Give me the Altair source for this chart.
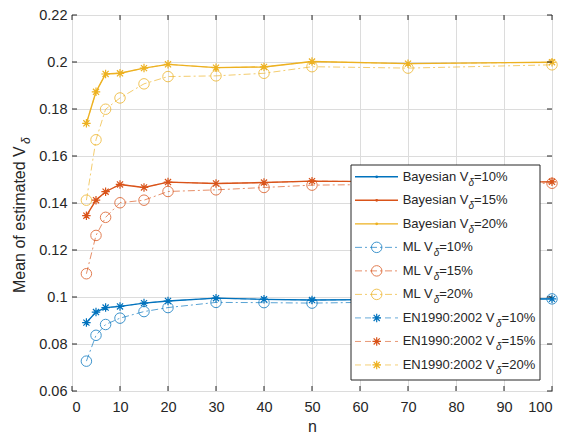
import altair as alt
import pandas as pd

# ---------------- data ----------------
n_values = [3, 5, 7, 10, 15, 20, 30, 40, 50, 70, 100]

bayes_10 = [0.0891, 0.0936, 0.0955, 0.0960, 0.0974, 0.0983, 0.0995, 0.0990, 0.0987, 0.0990, 0.0992]
bayes_15 = [0.1346, 0.1412, 0.1448, 0.1479, 0.1466, 0.1489, 0.1483, 0.1487, 0.1493, 0.1490, 0.1490]
bayes_20 = [0.1739, 0.1873, 0.1949, 0.1952, 0.1974, 0.1990, 0.1976, 0.1979, 0.2002, 0.1993, 0.1999]

ml_10 = [0.0727, 0.0837, 0.0883, 0.0910, 0.0938, 0.0955, 0.0977, 0.0976, 0.0974, 0.0980, 0.0992]
ml_15 = [0.1099, 0.1262, 0.1339, 0.1401, 0.1412, 0.1449, 0.1456, 0.1466, 0.1476, 0.1480, 0.1484]
ml_20 = [0.1412, 0.1669, 0.1799, 0.1847, 0.1907, 0.1938, 0.1941, 0.1952, 0.1980, 0.1974, 0.1988]

en_10 = [0.0891, 0.0936, 0.0955, 0.0960, 0.0974, 0.0983, 0.0995, 0.0990, 0.0987, 0.0990, 0.0992]
en_15 = [0.1346, 0.1412, 0.1448, 0.1479, 0.1466, 0.1489, 0.1483, 0.1487, 0.1493, 0.1490, 0.1490]
en_20 = [0.1739, 0.1873, 0.1949, 0.1952, 0.1974, 0.1990, 0.1976, 0.1979, 0.2002, 0.1993, 0.1999]

levels = ["10%", "15%", "20%"]
colors = ["#0072BD", "#D95319", "#EDB120"]

x_ticks = [0, 10, 20, 30, 40, 50, 60, 70, 80, 90, 100]
y_ticks = [0.06, 0.08, 0.10, 0.12, 0.14, 0.16, 0.18, 0.20, 0.22]

legend_methods = ["Bayesian"] * 3 + ["ML"] * 3 + ["EN1990:2002"] * 3
legend_levels = levels * 3

# ---------------- tables ----------------
def long(method, series):
    rows = []
    for lev, vals in zip(levels, series):
        for x, y in zip(n_values, vals):
            rows.append({"method": method, "V": lev, "n": x, "mean": y})
    return rows

df_b = pd.DataFrame(long("Bayesian", [bayes_10, bayes_15, bayes_20]))
df_m = pd.DataFrame(long("ML", [ml_10, ml_15, ml_20]))
df_e = pd.DataFrame(long("EN1990:2002", [en_10, en_15, en_20]))

W, H = 480, 376
LEFT, TOP = 72, 15          # plot origin in page pixels (8px page margin + padding)
X0, X1, Y0, Y1 = 0, 100, 0.06, 0.22

def px2x(page_x):
    return X0 + (page_x - LEFT) / W * (X1 - X0)

def py2y(page_y):
    return Y1 - (page_y - TOP) / H * (Y1 - Y0)

xs = alt.Scale(domain=[X0, X1], nice=False, zero=False)
ys = alt.Scale(domain=[Y0, Y1], nice=False, zero=False)
cs = alt.Scale(domain=levels, range=colors)

ax_x = alt.Axis(values=x_ticks, title="n", grid=True, ticks=False, domain=False,
                labelFontSize=14.5, titleFontSize=16, labelPadding=9, titlePadding=5)
ax_y = alt.Axis(values=y_ticks, title=None, grid=True, ticks=False, domain=False,
                format="~g", labelFontSize=14.5, labelPadding=5)

def X(field):
    return alt.X(field, type="quantitative", scale=xs, axis=ax_x)

def Y(field):
    return alt.Y(field, type="quantitative", scale=ys, axis=ax_y)

col = alt.Color("V:N", scale=cs, legend=None)

asterisk = "M0,-1L0,1M-1,0L1,0M-0.72,-0.72L0.72,0.72M-0.72,0.72L0.72,-0.72"
ML_DASH = [7, 3, 2, 3]
EN_DASH = [6, 4]
AST_SIZE = 72

ml_line = alt.Chart(df_m).mark_line(strokeDash=ML_DASH, strokeWidth=1, opacity=0.65).encode(
    x=X("n"), y=Y("mean"), color=col, detail="V:N")
ml_pts = alt.Chart(df_m).mark_point(shape="circle", filled=False, size=110, strokeWidth=1, opacity=0.75).encode(
    x=X("n"), y=Y("mean"), color=col)
en_line = alt.Chart(df_e).mark_line(strokeDash=EN_DASH, strokeWidth=1, opacity=0.6).encode(
    x=X("n"), y=Y("mean"), color=col, detail="V:N")
b_line = alt.Chart(df_b).mark_line(strokeWidth=1.4).encode(
    x=X("n"), y=Y("mean"), color=col, detail="V:N")
b_pts = alt.Chart(df_b).mark_point(shape="circle", filled=True, size=8, opacity=1).encode(
    x=X("n"), y=Y("mean"), color=col)
en_pts = alt.Chart(df_e).mark_point(shape=asterisk, filled=False, size=AST_SIZE, strokeWidth=1.2, opacity=1).encode(
    x=X("n"), y=Y("mean"), color=col)

# inward ticks on all four sides
xt = pd.DataFrame({"v": x_ticks})
yt = pd.DataFrame({"v": y_ticks})
tick_col = "#262626"
t_bottom = alt.Chart(xt).mark_rule(color=tick_col).encode(x=X("v"), y=alt.value(H), y2=alt.value(H - 5))
t_top = alt.Chart(xt).mark_rule(color=tick_col).encode(x=X("v"), y=alt.value(0), y2=alt.value(5))
t_left = alt.Chart(yt).mark_rule(color=tick_col).encode(y=Y("v"), x=alt.value(0), x2=alt.value(5))
t_right = alt.Chart(yt).mark_rule(color=tick_col).encode(y=Y("v"), x=alt.value(W), x2=alt.value(W - 5))

# y axis title with subscript
ytitle = alt.Chart(pd.DataFrame({"t": ["Mean of estimated V"]})).mark_text(
    angle=270, align="left", baseline="alphabetic", fontSize=16, color="#262626",
    font="Liberation Sans").encode(x=alt.value(25 - LEFT), y=alt.value(293 - TOP), text="t:N")
ytitle_sub = alt.Chart(pd.DataFrame({"t": ["δ"]})).mark_text(
    angle=270, align="left", baseline="alphabetic", fontSize=12, fontStyle="italic", color="#262626",
    font="Liberation Sans").encode(x=alt.value(30 - LEFT), y=alt.value(144 - TOP), text="t:N")

# ---------------- legend (drawn in data units) ----------------
box = pd.DataFrame({"x1": [px2x(351)], "x2": [px2x(540)], "y1": [py2y(165)], "y2": [py2y(380)]})
leg_box = alt.Chart(box).mark_rect(fill="white", stroke="#262626", strokeWidth=1).encode(
    x=X("x1"), x2="x2", y=Y("y1"), y2="y2")

prefix_w = {"Bayesian": 64.0, "ML": 29.2, "EN1990:2002": 91.6}
TXT0 = 402.7
rows = []
for i, (m, lev) in enumerate(zip(legend_methods, legend_levels)):
    page_y = 176.8 + 23.52 * i
    rows.append({"method": m, "V": lev, "ly": py2y(page_y), "lx1": px2x(355), "lx2": px2x(398),
                 "mx": px2x(376.7), "tx": px2x(TXT0), "dx": px2x(TXT0 + prefix_w[m] + 1.8),
                 "sx": px2x(TXT0 + prefix_w[m] + 7.3),
                 "pre": m + " V", "suf": "=" + lev, "sub": "δ"})
leg = pd.DataFrame(rows)
leg_b = leg[leg.method == "Bayesian"]
leg_m = leg[leg.method == "ML"]
leg_e = leg[leg.method == "EN1990:2002"]

lb_line = alt.Chart(leg_b).mark_rule(strokeWidth=1.4).encode(x=X("lx1"), x2="lx2", y=Y("ly"), color=col)
lb_pt = alt.Chart(leg_b).mark_point(shape="circle", filled=True, size=8, opacity=1).encode(
    x=X("mx"), y=Y("ly"), color=col)
lm_line = alt.Chart(leg_m).mark_rule(strokeDash=ML_DASH, strokeWidth=1, opacity=0.65).encode(
    x=X("lx1"), x2="lx2", y=Y("ly"), color=col)
lm_pt = alt.Chart(leg_m).mark_point(shape="circle", filled=False, size=110, strokeWidth=1, opacity=0.75).encode(
    x=X("mx"), y=Y("ly"), color=col)
le_line = alt.Chart(leg_e).mark_rule(strokeDash=EN_DASH, strokeWidth=1, opacity=0.6).encode(
    x=X("lx1"), x2="lx2", y=Y("ly"), color=col)
le_pt = alt.Chart(leg_e).mark_point(shape=asterisk, filled=False, size=AST_SIZE, strokeWidth=1.2, opacity=1).encode(
    x=X("mx"), y=Y("ly"), color=col)

txt_kw = dict(align="left", baseline="middle", fontSize=13, color="#262626", font="Liberation Sans")
l_pre = alt.Chart(leg).mark_text(**txt_kw).encode(x=X("tx"), y=Y("ly"), text="pre:N")
l_suf = alt.Chart(leg).mark_text(**txt_kw).encode(x=X("sx"), y=Y("ly"), text="suf:N")
l_sub = alt.Chart(leg).mark_text(align="left", baseline="middle", fontSize=10, fontStyle="italic",
                                 color="#262626", font="Liberation Sans", dy=6).encode(
    x=X("dx"), y=Y("ly"), text="sub:N")

chart = alt.layer(
    ml_line, en_line, b_line, ml_pts, b_pts, en_pts,
    t_bottom, t_top, t_left, t_right,
    leg_box, lb_line, lm_line, le_line, lb_pt, lm_pt, le_pt, l_pre, l_suf, l_sub,
    ytitle, ytitle_sub,
).properties(
    width=W, height=H,
    autosize=alt.AutoSizeParams(type="none"),
    padding={"left": LEFT - 8, "top": TOP - 8, "right": 6, "bottom": 50},
    background="white",
).configure_view(
    stroke="#262626", strokeWidth=1
).configure_axis(
    gridColor="#dcdcdc", gridWidth=1, labelColor="#262626", titleColor="#262626",
    labelFont="Liberation Sans", titleFont="Liberation Sans", titleFontWeight="normal",
)

chart.save("out.html", embed_options={"renderer": "svg", "actions": False})
